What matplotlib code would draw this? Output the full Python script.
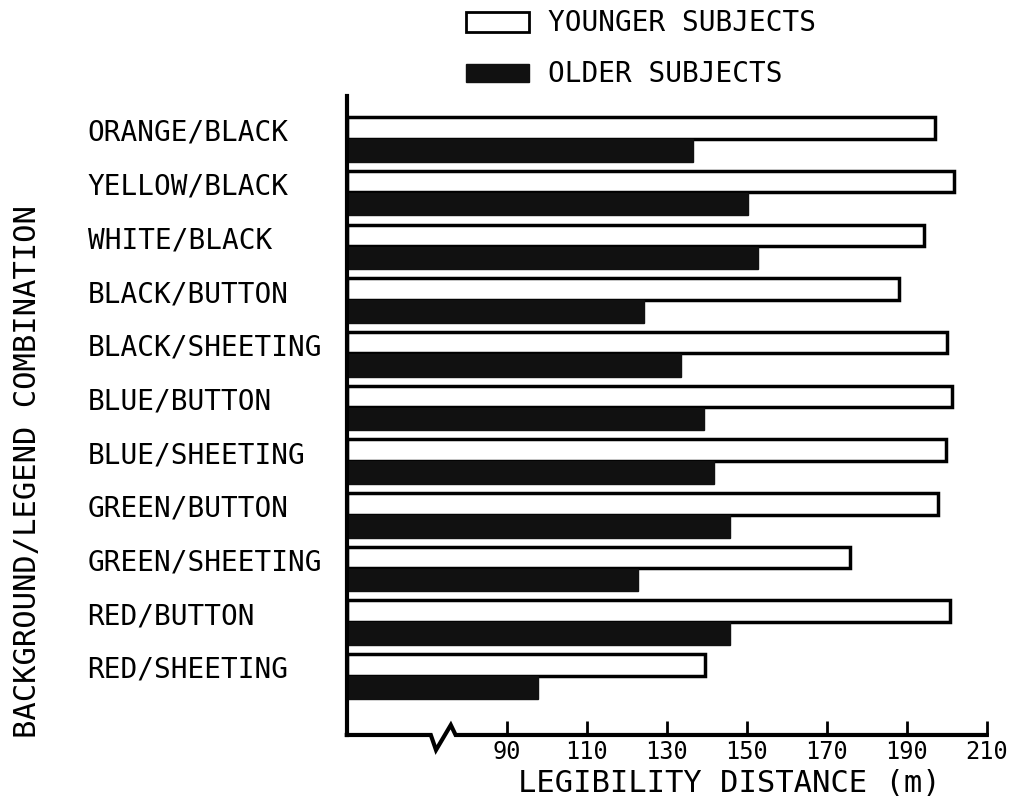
import numpy as np
import matplotlib.pyplot as plt
from matplotlib.patches import Rectangle
import matplotlib.transforms as mtransforms

plt.rcParams["font.family"] = ["DejaVu Sans Mono", "DejaVu Sans"]

# Data
categories = [
    "ORANGE/BLACK", "YELLOW/BLACK", "WHITE/BLACK", "BLACK/BUTTON",
    "BLACK/SHEETING", "BLUE/BUTTON", "BLUE/SHEETING", "GREEN/BUTTON",
    "GREEN/SHEETING", "RED/BUTTON", "RED/SHEETING",
]
younger = [197, 201.7, 194.4, 188, 200, 201.4, 199.7, 197.8, 175.9, 200.8, 139.5]
older = [136.5, 150.2, 152.7, 124.2, 133.5, 139.3, 141.7, 145.8, 122.9, 145.8, 97.7]
tick_values = [90, 110, 130, 150, 170, 190, 210]

x0 = 50  # left end of the (broken) axis

fig = plt.figure(figsize=(10.2, 8.04), dpi=100)
ax = fig.add_axes([0.340, 0.0846, 0.6275, 0.7948])

y = np.arange(len(categories))
ax.barh(y - 0.205, np.array(younger) - x0, left=x0, height=0.40,
        color="white", edgecolor="black", linewidth=2.5)
ax.barh(y + 0.215, np.array(older) - x0, left=x0, height=0.42,
        color="#111111", edgecolor="#111111", linewidth=1)

ax.set_xlim(x0, 210)
ax.set_ylim(11.10, -0.80)

# category labels, left aligned far from the axis
for i, name in enumerate(categories):
    ax.text(-0.405, i - 0.13, name, transform=ax.get_yaxis_transform(),
            ha="left", va="center", fontsize=20)

ax.set_yticks([])
ax.set_xticks(tick_values)
ax.set_xticklabels([str(t) for t in tick_values], fontsize=17)
ax.tick_params(axis="x", direction="in", length=10, width=2, pad=3)

for side in ["top", "right", "bottom"]:
    ax.spines[side].set_visible(False)
ax.spines["left"].set_linewidth(3)

# bottom axis with break symbol
trans = mtransforms.blended_transform_factory(ax.transData, ax.transAxes)
bx = [x0, 71.0, 72.3, 76.0, 77.2, 210]
by = [0, 0, -0.0235, 0.0156, 0, 0]
ax.plot(bx, by, color="black", linewidth=3, transform=trans, clip_on=False,
        solid_joinstyle="miter")

# legend drawn by hand
fig.patches.append(Rectangle((0.457, 0.959), 0.0618, 0.0249, transform=fig.transFigure,
                             facecolor="white", edgecolor="black", linewidth=2))
fig.patches.append(Rectangle((0.457, 0.8968), 0.0618, 0.0224, transform=fig.transFigure,
                             facecolor="#111111", edgecolor="#111111", linewidth=1))
fig.text(0.537, 0.971, "YOUNGER SUBJECTS", ha="left", va="center", fontsize=20)
fig.text(0.537, 0.908, "OLDER SUBJECTS", ha="left", va="center", fontsize=20)

fig.text(0.715, 0.026, "LEGIBILITY DISTANCE (m)", ha="center", va="center", fontsize=22)
fig.text(0.0265, 0.413, "BACKGROUND/LEGEND COMBINATION", ha="center", va="center",
         rotation=90, fontsize=22)

fig.savefig("out.png", dpi=100)
